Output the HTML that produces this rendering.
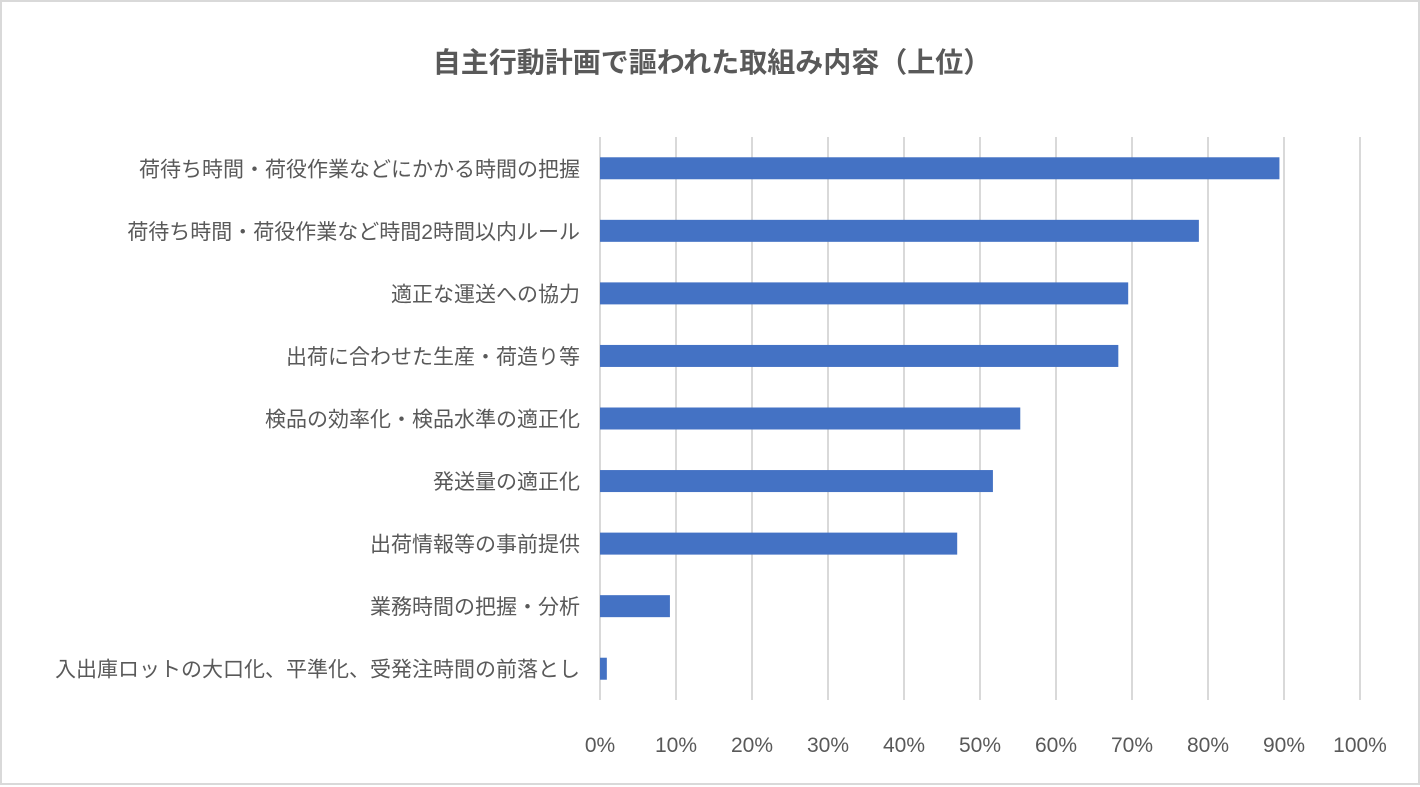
<!DOCTYPE html>
<html><head><meta charset="utf-8"><style>
html,body{margin:0;padding:0;background:#fff;}
body{width:1420px;height:787px;overflow:hidden;position:relative;font-family:"Liberation Sans","Noto Sans CJK JP",sans-serif;}
#frame{position:absolute;left:0;top:0;width:1416px;height:781px;border:2px solid #d9d9d9;}
</style></head><body>
<div id="frame"></div>
<svg id="chart" width="1420" height="787" style="position:absolute;left:0;top:0">
<text x="712" y="72" text-anchor="middle" font-size="28" font-weight="bold" fill="#595959" font-family="Liberation Sans, Noto Sans CJK JP, sans-serif">自主行動計画で謳われた取組み内容（上位）</text>
<g id="grid"></g><g id="bars"></g><g id="ylabels"></g><g id="xticks"></g>
</svg>
<script>
const categories=["荷待ち時間・荷役作業などにかかる時間の把握","荷待ち時間・荷役作業など時間2時間以内ルール","適正な運送への協力","出荷に合わせた生産・荷造り等","検品の効率化・検品水準の適正化","発送量の適正化","出荷情報等の事前提供","業務時間の把握・分析","入出庫ロットの大口化、平準化、受発注時間の前落とし"];
const values=[89.4,78.8,69.5,68.2,55.3,51.7,47.0,9.2,0.9];
const tickLabels=["0%","10%","20%","30%","40%","50%","60%","70%","80%","90%","100%"];
const ticks=[0,10,20,30,40,50,60,70,80,90,100];
const NS="http://www.w3.org/2000/svg";
const x0=600,x1=1360,plotTop=137,plotBottom=700;
const xs=v=>x0+(x1-x0)*v/100;
const band=(plotBottom-plotTop)/categories.length;
const yc=i=>plotTop+band*(i+0.5);
const grid=document.getElementById('grid'),bars=document.getElementById('bars'),yl=document.getElementById('ylabels'),xt=document.getElementById('xticks');
ticks.forEach((t,i)=>{
 const l=document.createElementNS(NS,'line');
 l.setAttribute('x1',xs(t));l.setAttribute('x2',xs(t));l.setAttribute('y1',plotTop);l.setAttribute('y2',plotBottom);
 l.setAttribute('stroke','#d9d9d9');l.setAttribute('stroke-width','2');
 
 
 grid.appendChild(l);
 const tx=document.createElementNS(NS,'text');
 tx.setAttribute('x',xs(t));tx.setAttribute('y',752);tx.setAttribute('text-anchor','middle');
 tx.setAttribute('font-size','21');tx.setAttribute('fill','#595959');
 tx.textContent=tickLabels[i];
 
 
 xt.appendChild(tx);
});
categories.forEach((c,i)=>{
 const r=document.createElementNS(NS,'rect');
 r.setAttribute('x',x0);r.setAttribute('y',yc(i)-11);r.setAttribute('width',xs(values[i])-x0);r.setAttribute('height',22);
 r.setAttribute('fill','#4472c4');
 
 
 bars.appendChild(r);
 const tx=document.createElementNS(NS,'text');
 tx.setAttribute('x',580);tx.setAttribute('y',yc(i)+8);tx.setAttribute('text-anchor','end');
 tx.setAttribute('font-size','21');tx.setAttribute('fill','#595959');
 tx.textContent=c;
 
 
 yl.appendChild(tx);
});
</script>
</body></html>
